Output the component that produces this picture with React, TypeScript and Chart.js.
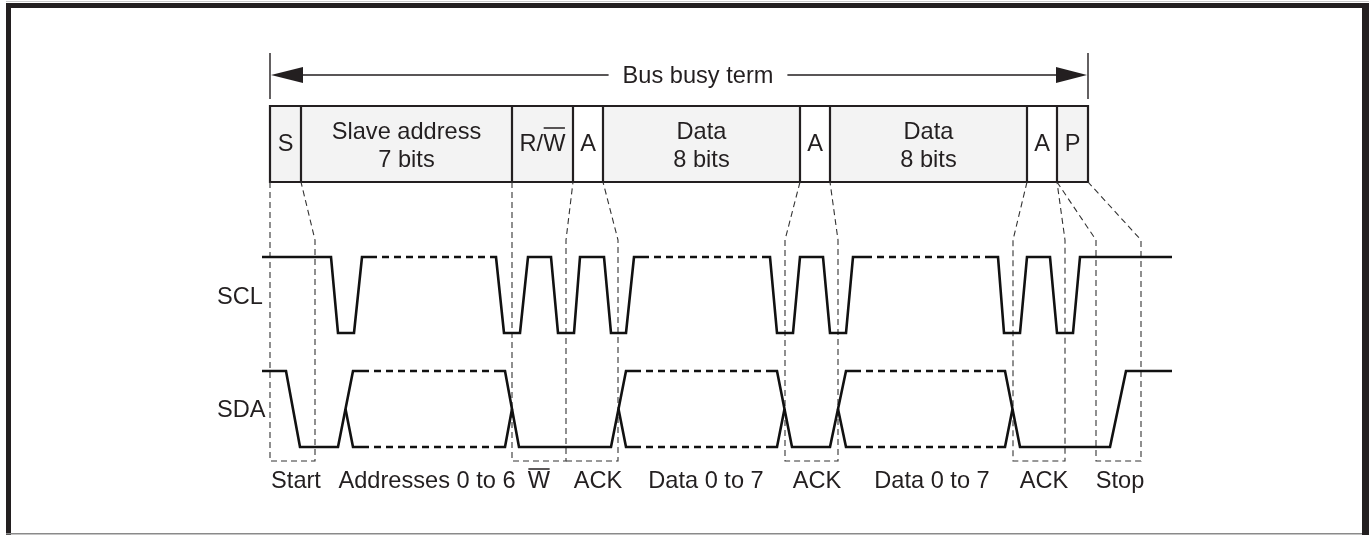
import React, { useEffect, useRef } from 'react';
import { Chart, registerables } from 'chart.js';
Chart.register(...registerables);

const CANVAS_W = 1369;
const CANVAS_H = 535;
const FONT = '"Liberation Sans", Arial, Helvetica, sans-serif';
const INK = '#231f20';

// ---- Packet format row ----
const fieldLabels: string[][] = [['S'], ['Slave address', '7 bits'], ['R/~W'], ['A'], ['Data', '8 bits'], ['A'], ['Data', '8 bits'], ['A'], ['P']];
const fieldEdges = [270, 301, 512, 573, 603, 800, 830, 1027, 1057, 1088];
const fieldShaded = [true, true, true, false, true, false, true, false, true];
const busLabel = 'Bus busy term';
const busLabelCenter = 698;
const busSpan = [270, 1088];

// ---- SCL waveform (time, logic level) ; null = break ----
const sclTimes = [262, 331, 338, 354, 362, 370, null, 490, 496, 504, 520, 528, 551, 558, 574, 580, 604, 611, 626, 634, 642, null, 763, 770, 777, 793, 800, 823, 830, 846, 853, 865, null, 992, 998, 1004, 1020, 1027, 1050, 1057, 1073, 1080, 1172];
const sclLevels = [1, 1, 0, 0, 1, 1, null, 1, 1, 0, 0, 1, 1, 0, 0, 1, 1, 0, 0, 1, 1, null, 1, 1, 0, 0, 1, 1, 0, 0, 1, 1, null, 1, 1, 0, 0, 1, 1, 0, 0, 1, 1];
const sclDashedSpans = [[370, 490], [642, 763], [865, 992]];

// ---- SDA waveform ----
const sdaTimes = [262, 286, 300, 338, 353, 362, null, 497, 505, 519, 611, 626, 634, null, 770, 777, 792, 830, 846, 854, null, 997, 1005, 1020, 1110, 1126, 1172];
const sdaLevels = [1, 1, 0, 0, 1, 1, null, 1, 1, 0, 0, 1, 1, null, 1, 1, 0, 0, 1, 1, null, 1, 1, 0, 0, 1, 1];
const sdaAltTimes = [345.5, 353, 362, null, 497, 505, 512, null, 618.5, 626, 634, null, 770, 777, 784.5, null, 838, 846, 854, null, 997, 1005, 1012.5];
const sdaAltLevels = [0.5, 0, 0, null, 0, 0, 0.5, null, 0.5, 0, 0, null, 0, 0, 0.5, null, 0.5, 0, 0, null, 0, 0, 0.5];
const sdaDashedSpans = [[362, 497], [634, 770], [854, 997]];

// lanes (y of high / low level)
const sclLane = { high: 257, low: 333, label: 'SCL', labelY: 297 };
const sdaLane = { high: 371, low: 447, label: 'SDA', labelY: 410 };
const laneLabelX = 217;

// ---- guide (projection) polylines: [x, y] pairs ----
const guideLines: number[][][] = [
  [[270, 182], [270, 461], [315, 461], [315, 240], [301, 182]],
  [[512, 182], [512, 461], [566, 461], [566, 240], [573, 182]],
  [[566, 461], [618, 461], [618, 240], [603, 182]],
  [[800, 182], [785, 240], [785, 461], [838, 461], [838, 240], [830, 182]],
  [[1027, 182], [1013, 240], [1013, 461], [1065, 461], [1065, 240], [1057, 182]],
  [[1057, 182], [1096, 240], [1096, 461], [1141, 461], [1141, 240], [1088, 182]],
];

// ---- bottom phase labels ----
const phaseLabels = ['Start', 'Addresses 0 to 6', '~W', 'ACK', 'Data 0 to 7', 'ACK', 'Data 0 to 7', 'ACK', 'Stop'];
const phaseCenters = [296, 427, 539, 598, 706, 817, 932, 1044, 1120];

function levelToY(lane: { high: number; low: number }, lv: number) {
  return lane.low - lv * (lane.low - lane.high);
}

function segments(times: (number | null)[], levels: (number | null)[], lane: { high: number; low: number }) {
  const out: { x: number; y: number }[][] = [];
  let cur: { x: number; y: number }[] = [];
  times.forEach((t, i) => {
    const lv = levels[i];
    if (t === null || lv === null) {
      if (cur.length) out.push(cur);
      cur = [];
    } else {
      cur.push({ x: t, y: levelToY(lane, lv) });
    }
  });
  if (cur.length) out.push(cur);
  return out;
}

function drawRich(ctx: CanvasRenderingContext2D, text: string, cx: number, cy: number, overOff: number) {
  const chars: { c: string; over: boolean }[] = [];
  for (let i = 0; i < text.length; i++) {
    if (text[i] === '~') { chars.push({ c: text[i + 1], over: true }); i++; }
    else chars.push({ c: text[i], over: false });
  }
  const plain = chars.map((c) => c.c).join('');
  const total = ctx.measureText(plain).width;
  const x = cx - total / 2;
  ctx.textAlign = 'left';
  ctx.textBaseline = 'middle';
  let acc = '';
  chars.forEach((ch) => {
    const x0 = x + ctx.measureText(acc).width;
    acc += ch.c;
    const x1 = x + ctx.measureText(acc).width;
    if (ch.over) {
      ctx.save();
      ctx.lineWidth = 1.5;
      ctx.strokeStyle = INK;
      ctx.beginPath();
      ctx.moveTo(x0 + 0.5, cy - overOff);
      ctx.lineTo(x1 - 0.5, cy - overOff);
      ctx.stroke();
      ctx.restore();
    }
  });
  ctx.fillText(plain, x, cy);
}

const diagramPlugin = {
  id: 'diagram',
  beforeDatasetsDraw(chart: any) {
    const ctx: CanvasRenderingContext2D = chart.ctx;
    const xs = chart.scales.x, ys = chart.scales.y;
    const X = (v: number) => xs.getPixelForValue(v);
    const Y = (v: number) => ys.getPixelForValue(v);
    ctx.save();
    // frame
    ctx.fillStyle = '#c8c8c8';
    ctx.fillRect(X(6), Y(1), X(1369) - X(6), 1);
    ctx.fillStyle = INK;
    ctx.fillRect(X(6), Y(3), 5, Y(535) - Y(3));
    ctx.fillRect(X(6), Y(3), X(1369) - X(6), 5);
    ctx.fillRect(X(1362), Y(3), 7, Y(535) - Y(3));
    ctx.fillStyle = '#8a8a8a';
    ctx.fillRect(X(6), Y(533), X(1362) - X(6), 1.5);

    // packet boxes
    const top = Y(106), bot = Y(182);
    for (let i = 0; i < fieldLabels.length; i++) {
      const x0 = X(fieldEdges[i]), x1 = X(fieldEdges[i + 1]);
      ctx.fillStyle = fieldShaded[i] ? '#f3f3f3' : '#ffffff';
      ctx.fillRect(x0, top, x1 - x0, bot - top);
    }
    ctx.strokeStyle = INK;
    ctx.lineWidth = 2.2;
    ctx.beginPath();
    ctx.rect(X(fieldEdges[0]), top, X(fieldEdges[fieldEdges.length - 1]) - X(fieldEdges[0]), bot - top);
    for (let i = 1; i < fieldEdges.length - 1; i++) {
      ctx.moveTo(X(fieldEdges[i]), top);
      ctx.lineTo(X(fieldEdges[i]), bot);
    }
    ctx.stroke();

    ctx.fillStyle = INK;
    ctx.font = `23.6px ${FONT}`;
    for (let i = 0; i < fieldLabels.length; i++) {
      const cx = X((fieldEdges[i] + fieldEdges[i + 1]) / 2);
      const lines = fieldLabels[i];
      if (lines.length === 1) drawRich(ctx, lines[0], cx, Y(144), 16);
      else {
        drawRich(ctx, lines[0], cx, Y(132), 16);
        drawRich(ctx, lines[1], cx, Y(160), 16);
      }
    }

    // bus busy arrow
    const ay = Y(75);
    ctx.lineWidth = 1.4;
    ctx.beginPath();
    ctx.moveTo(X(busSpan[0]), Y(53)); ctx.lineTo(X(busSpan[0]), Y(99));
    ctx.moveTo(X(busSpan[1]), Y(53)); ctx.lineTo(X(busSpan[1]), Y(99));
    ctx.stroke();
    const tw = ctx.measureText(busLabel).width;
    const mid = X(busLabelCenter);
    ctx.beginPath();
    ctx.moveTo(X(busSpan[0]) + 30, ay); ctx.lineTo(mid - tw / 2 - 14, ay);
    ctx.moveTo(mid + tw / 2 + 14, ay); ctx.lineTo(X(busSpan[1]) - 30, ay);
    ctx.stroke();
    ctx.beginPath();
    ctx.moveTo(X(busSpan[0]) + 1, ay);
    ctx.lineTo(X(busSpan[0]) + 33, ay - 8);
    ctx.lineTo(X(busSpan[0]) + 33, ay + 8);
    ctx.closePath();
    ctx.moveTo(X(busSpan[1]) - 1, ay);
    ctx.lineTo(X(busSpan[1]) - 32, ay - 8);
    ctx.lineTo(X(busSpan[1]) - 32, ay + 8);
    ctx.closePath();
    ctx.fill();
    ctx.textAlign = 'center';
    ctx.textBaseline = 'middle';
    ctx.fillText(busLabel, mid, ay + 1);

    // lane labels
    ctx.textAlign = 'left';
    ctx.fillText(sclLane.label, X(laneLabelX), Y(sclLane.labelY));
    ctx.fillText(sdaLane.label, X(laneLabelX), Y(sdaLane.labelY));

    // phase labels
    phaseLabels.forEach((t, i) => drawRich(ctx, t, X(phaseCenters[i]), Y(481), 12));
    ctx.restore();
  },
};

export default function App() {
  const ref = useRef<HTMLCanvasElement>(null);
  useEffect(() => {
    document.body.style.margin = '0';
    const solid = { borderColor: '#111111', borderWidth: 2.6, pointRadius: 0, showLine: true, fill: false, tension: 0, borderJoinStyle: 'miter' as const, order: 0 };
    const dashed = { ...solid, borderDash: [7, 5], borderWidth: 2.4 };
    const guide = { borderColor: '#333333', borderWidth: 1.1, borderDash: [6, 4], pointRadius: 0, showLine: true, fill: false, tension: 0, order: 5 };
    const datasets: any[] = [];
    segments(sclTimes, sclLevels, sclLane).forEach((d) => datasets.push({ ...solid, data: d }));
    segments(sdaTimes, sdaLevels, sdaLane).forEach((d) => datasets.push({ ...solid, data: d }));
    segments(sdaAltTimes, sdaAltLevels, sdaLane).forEach((d) => datasets.push({ ...solid, data: d }));
    sclDashedSpans.forEach(([a, b]) => datasets.push({ ...dashed, data: [{ x: a, y: sclLane.high }, { x: b, y: sclLane.high }] }));
    sdaDashedSpans.forEach(([a, b]) => {
      datasets.push({ ...dashed, data: [{ x: a, y: sdaLane.high }, { x: b, y: sdaLane.high }] });
      datasets.push({ ...dashed, data: [{ x: a, y: sdaLane.low }, { x: b, y: sdaLane.low }] });
    });
    guideLines.forEach((g) => datasets.push({ ...guide, data: g.map(([x, y]) => ({ x, y })) }));

    const chart = new Chart(ref.current!, {
      type: 'scatter',
      data: { datasets },
      options: {
        animation: false,
        responsive: false,
        devicePixelRatio: 1,
        layout: { padding: 0 },
        plugins: { legend: { display: false }, tooltip: { enabled: false } },
        scales: {
          x: { type: 'linear', min: 0, max: CANVAS_W, display: false },
          y: { type: 'linear', min: 0, max: CANVAS_H, reverse: true, display: false },
        },
      },
      plugins: [diagramPlugin],
    });
    return () => chart.destroy();
  }, []);
  return <canvas ref={ref} width={CANVAS_W} height={CANVAS_H} style={{ display: 'block' }} />;
}
